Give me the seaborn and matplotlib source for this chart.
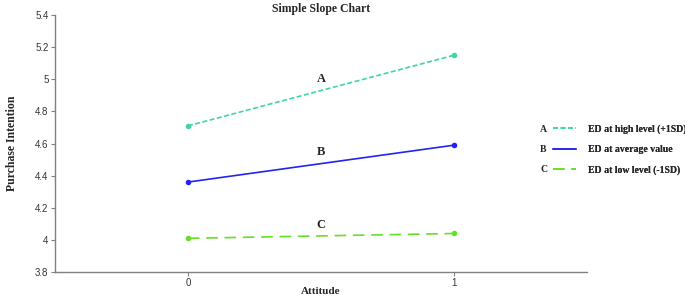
import pandas as pd
import numpy as np
import matplotlib.pyplot as plt
import seaborn as sns
from matplotlib.lines import Line2D

# values
attitude = [0, 1]
high_ed = [4.71, 5.15]
avg_ed = [4.36, 4.59]
low_ed = [4.01, 4.04]
letters = ['A', 'B', 'C']
labels = ['ED at high level (+1SD)', 'ED at average value', 'ED at low level (-1SD)']
colors = ['#3fd6a0', '#2424f0', '#66e024']
dashes = [(3, 1.5), '', (7, 4)]

df = pd.DataFrame({
    'Attitude': attitude * 3,
    'Purchase Intention': high_ed + avg_ed + low_ed,
    'group': [labels[0]] * 2 + [labels[1]] * 2 + [labels[2]] * 2,
})

sns.set_style('white')
serif = ['Liberation Serif', 'DejaVu Serif']
sans = ['Liberation Sans', 'DejaVu Sans']

fig = plt.figure(figsize=(6.85, 2.96), dpi=100)
ax = fig.add_axes([0.080, 0.081, 0.777, 0.868])

for i, lab in enumerate(labels):
    sub = df[df['group'] == lab]
    if dashes[i] == '':
        ls = '-'
    else:
        ls = (0, dashes[i])
    sns.lineplot(data=sub, x='Attitude', y='Purchase Intention', ax=ax,
                 color=colors[i], linestyle=ls, linewidth=1.2,
                 marker='o', markersize=4, markeredgewidth=0, legend=False)
    ys = sub['Purchase Intention'].values
    ax.text(0.5, ys.mean() + 0.07, letters[i], ha='center', va='center',
            fontsize=9, fontweight='bold', family=serif)

ax.set_xlim(-0.5, 1.5)
ax.set_ylim(3.8, 5.4)
ax.set_xticks([0, 1])
ax.set_yticks(np.round(np.arange(3.8, 5.41, 0.2), 1))
ax.set_yticklabels(['3.8', '4', '4.2', '4.4', '4.6', '4.8', '5', '5.2', '5.4'])
for s in ['top', 'right']:
    ax.spines[s].set_visible(False)
for s in ['left', 'bottom']:
    ax.spines[s].set_color('#808080')
    ax.spines[s].set_linewidth(1)
ax.tick_params(axis='both', direction='out', length=3, width=0.8, color='#808080',
               labelsize=7, pad=1.5, left=True, bottom=True)
for t in ax.get_xticklabels() + ax.get_yticklabels():
    t.set_family(sans)
    t.set_color('#333333')

ax.set_xlabel('Attitude', fontsize=8, fontweight='bold', family=serif, labelpad=-1)
ax.set_ylabel('Purchase Intention', fontsize=8.5, fontweight='bold', family=serif, labelpad=12)
ax.set_title('Simple Slope Chart', fontsize=8.5, fontweight='bold', family=serif, pad=2)

handles = [Line2D([], [], color=colors[i], linestyle='-' if dashes[i] == '' else (0, dashes[i]),
                  linewidth=1.2) for i in range(3)]
leg = fig.legend(handles, labels, loc='center left', bbox_to_anchor=(0.794, 0.494),
                 frameon=False, handlelength=2.4, handletextpad=1.2, labelspacing=1.15,
                 prop={'family': serif, 'weight': 'bold', 'size': 7})
blank = [Line2D([], [], linestyle='none') for _ in range(3)]
leg2 = fig.legend(blank, letters, loc='center left', bbox_to_anchor=(0.776, 0.494),
                  frameon=False, handlelength=0, handletextpad=0, labelspacing=1.15,
                  prop={'family': serif, 'weight': 'bold', 'size': 7})
fig.add_artist(leg)

fig.savefig('out.png', dpi=100)
